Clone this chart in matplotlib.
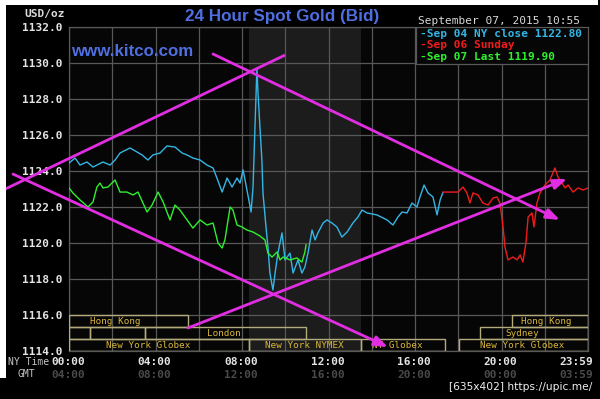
import matplotlib
matplotlib.use("Agg")
import matplotlib.pyplot as plt
import matplotlib.transforms as mtransforms
from matplotlib.patches import Rectangle

# ---------------- data ----------------
sep04_h = [0.00, 0.28, 0.51, 0.83, 1.11, 1.57, 1.90, 2.13, 2.36, 2.82, 3.14, 3.38, 3.65, 3.88,
           4.21, 4.53, 4.90, 5.23, 5.46, 5.73, 6.06, 6.38, 6.66, 6.84, 7.08, 7.31, 7.54, 7.77,
           7.91, 8.05, 8.23, 8.42, 8.51, 8.60, 8.69, 8.74, 8.83, 8.92, 8.97, 9.11, 9.20, 9.29,
           9.43, 9.53, 9.66, 9.85, 9.99, 10.22, 10.36, 10.59, 10.77, 10.91, 11.05, 11.24, 11.38,
           11.51, 11.75, 11.93, 12.16, 12.39, 12.62, 12.86, 13.13, 13.36, 13.55, 13.78, 14.24,
           14.71, 14.98, 15.21, 15.40, 15.63, 15.86, 16.09, 16.23, 16.42, 16.60, 16.83, 17.02,
           17.16, 17.29]
sep04_p = [1124.44, 1124.72, 1124.33, 1124.50, 1124.22, 1124.50, 1124.33, 1124.61, 1125.00,
           1125.28, 1125.06, 1124.89, 1124.61, 1124.89, 1125.00, 1125.39, 1125.33, 1125.00,
           1124.89, 1124.72, 1124.61, 1124.33, 1124.17, 1123.61, 1122.83, 1123.61, 1123.11,
           1123.61, 1123.33, 1124.06, 1122.94, 1121.72, 1123.11, 1126.44, 1129.72, 1128.33,
           1126.44, 1124.61, 1122.78, 1120.89, 1119.78, 1118.33, 1117.39, 1118.33, 1119.44,
           1120.56, 1119.06, 1119.44, 1118.33, 1119.06, 1118.33, 1118.67, 1119.44, 1120.72,
           1120.17, 1120.56, 1121.11, 1121.28, 1121.11, 1120.89, 1120.33, 1120.61, 1121.11,
           1121.44, 1121.83, 1121.67, 1121.56, 1121.28, 1121.00, 1121.44, 1121.72, 1121.67,
           1122.22, 1122.00, 1122.56, 1123.22, 1122.78, 1122.56, 1121.56, 1122.39, 1122.80]

sep06_h = [17.29, 17.99, 18.22, 18.40, 18.54, 18.68, 18.91, 19.14, 19.38, 19.61, 19.79, 19.93,
           20.07, 20.16, 20.30, 20.53, 20.72, 20.86, 20.99, 21.13, 21.23, 21.41, 21.50, 21.64,
           21.78, 22.01, 22.24, 22.47, 22.61, 22.80, 22.94, 23.08, 23.31, 23.54, 23.77, 24.00]
sep06_p = [1122.83, 1122.83, 1123.11, 1122.78, 1122.22, 1122.78, 1122.67, 1122.22, 1122.11,
           1122.50, 1122.56, 1122.22, 1120.89, 1119.78, 1119.06, 1119.22, 1119.06, 1119.33,
           1118.94, 1120.00, 1121.44, 1121.67, 1120.89, 1122.22, 1122.78, 1123.22, 1123.50,
           1124.17, 1123.67, 1123.33, 1123.06, 1123.22, 1122.83, 1123.06, 1122.94, 1123.06]

sep07_h = [0.00, 0.18, 0.51, 0.88, 1.11, 1.29, 1.43, 1.57, 1.80, 2.13, 2.36, 2.68, 2.96, 3.19,
           3.42, 3.61, 3.84, 4.12, 4.35, 4.67, 4.90, 5.13, 5.46, 5.73, 6.06, 6.38, 6.66, 6.89,
           7.08, 7.21, 7.45, 7.58, 7.77, 8.00, 8.23, 8.51, 8.83, 9.06, 9.20, 9.39, 9.62, 9.76,
           9.90, 10.22, 10.54, 10.77, 10.91, 10.96]
sep07_p = [1123.06, 1122.78, 1122.39, 1122.00, 1122.28, 1123.11, 1123.33, 1123.06, 1123.11,
           1123.50, 1122.83, 1122.83, 1122.67, 1122.83, 1122.22, 1121.72, 1122.11, 1122.83,
           1122.28, 1121.28, 1122.11, 1121.83, 1121.28, 1120.83, 1121.28, 1121.00, 1121.11,
           1120.00, 1119.72, 1120.17, 1122.00, 1121.83, 1121.00, 1120.89, 1120.72, 1120.61,
           1120.39, 1120.17, 1119.44, 1119.22, 1119.50, 1119.06, 1119.22, 1119.06, 1119.17,
           1118.94, 1119.50, 1119.90]

legend_labels = ["-Sep 04 NY close 1122.80", "-Sep 06 Sunday", "-Sep 07 Last 1119.90"]
series_colors = ["#33b6e6", "#f01c1c", "#2ef02e"]

ny_ticks = [0, 4, 8, 12, 16, 20, 23.5]
ny_labels = ["00:00", "04:00", "08:00", "12:00", "16:00", "20:00", "23:59"]
gmt_labels = ["04:00", "08:00", "12:00", "16:00", "20:00", "00:00", "03:59"]
y_ticks = list(range(1114, 1133, 2))

# sessions: (row, start_hour, end_hour, label, label_hour)
sessions = [
    (0, 0.0, 5.5, "Hong Kong", 2.13),
    (0, 20.5, 24.0, "Hong Kong", 22.06),
    (1, 0.0, 0.97, "", 0),
    (1, 0.97, 3.5, "", 0),
    (1, 3.5, 10.96, "London", 7.17),
    (1, 19.0, 24.0, "Sydney", 20.95),
    (2, 0.0, 8.33, "New York Globex", 3.65),
    (2, 8.33, 13.5, "New York NYMEX", 10.87),
    (2, 13.5, 17.4, "NY Globex", 15.17),
    (2, 18.03, 24.0, "New York Globex", 20.95),
]
ny_session = (8.33, 13.5)

# hand-drawn trend lines (hour, price)
trend_lines = [
    ((-3.05, 1122.94), (9.99, 1130.44), False),
    ((-2.59, 1123.83), (14.75, 1114.22), True),
    ((6.66, 1130.50), (22.70, 1121.28), True),
    ((5.50, 1115.28), (23.03, 1123.56), True),
]

# ---------------- figure ----------------
W, H = 600, 399
fig = plt.figure(figsize=(6.0, 3.99), dpi=100, facecolor="#000000")

def fx(x):
    return x / W

def fy(y):
    return 1 - y / H

# white border strips
fig.patches.append(Rectangle((0, fy(5)), fx(598), 1 - fy(5), transform=fig.transFigure,
                             facecolor="white", edgecolor="none", zorder=0))
fig.patches.append(Rectangle((0, fy(378)), fx(6), fy(0) - fy(378), transform=fig.transFigure,
                             facecolor="white", edgecolor="none", zorder=0))

ax = fig.add_axes([fx(69), fy(351), fx(588) - fx(69), fy(27) - fy(351)])
ax.set_facecolor("#060606")
ax.set_xlim(0, 24)
ax.set_ylim(1114, 1132)
ax.axvspan(*ny_session, color="#1c1c1c", zorder=0.5, lw=0)

ax.set_xticks(range(0, 25, 2))
ax.set_yticks(y_ticks)
ax.set_yticklabels([f"{v:.1f}" for v in y_ticks])
ax.tick_params(axis="x", length=0, labelbottom=False)
ax.tick_params(axis="y", length=0, pad=5, labelsize=8, labelcolor="#e4e4e4")
for lab in ax.get_yticklabels():
    lab.set_fontfamily("DejaVu Sans Mono")
    lab.set_fontweight("bold")
ax.grid(True, color="#585858", lw=0.9, zorder=1)
ax.set_axisbelow(True)
for s in ax.spines.values():
    s.set_color("#585858")
    s.set_linewidth(0.9)

# session boxes
bt = mtransforms.blended_transform_factory(ax.transData, ax.transAxes)
row_h = 12 / 324
for row, h0, h1, lab, lh in sessions:
    ybot = (351 - 315) / 324 - (row + 1) * row_h
    ax.add_patch(Rectangle((h0, ybot), h1 - h0, row_h, transform=bt, fill=False,
                           edgecolor="#b4ab7c", lw=1.0, zorder=3))
    if lab:
        ax.text(lh, ybot + row_h / 2, lab, transform=bt, ha="center", va="center",
                fontsize=6.7, family="DejaVu Sans Mono", color="#dcb83a", zorder=4)

# data lines
ax.plot(sep04_h, sep04_p, color=series_colors[0], lw=1.0, zorder=5)
ax.plot(sep06_h, sep06_p, color=series_colors[1], lw=1.0, zorder=5)
ax.plot(sep07_h, sep07_p, color=series_colors[2], lw=1.0, zorder=6)

# legend box
lx0 = 16.05
ax.add_patch(Rectangle((lx0, (351 - 64) / 324), 24 - lx0, 1 - (351 - 64) / 324, transform=bt,
                       facecolor="#060606", edgecolor="#585858", lw=0.9, zorder=7))
for i, (lab, c) in enumerate(zip(legend_labels, series_colors)):
    fig.text(fx(420), fy(34 + i * 11.5), lab, color=c, fontsize=8, family="DejaVu Sans Mono",
             fontweight="bold", ha="left", va="center", zorder=8)

# trend lines
magenta = "#e22ee2"
for (x0, y0), (x1, y1), arrow in trend_lines:
    if arrow:
        ax.annotate("", xy=(x1, y1), xytext=(x0, y0), annotation_clip=False,
                    arrowprops=dict(arrowstyle="-|>,head_length=0.8,head_width=0.3",
                                    color=magenta, lw=2.0, shrinkA=0, shrinkB=0),
                    zorder=9)
    else:
        ax.plot([x0, x1], [y0, y1], color=magenta, lw=2.0, clip_on=False, zorder=9,
                solid_capstyle="butt")

# x labels
for t, l, g in zip(ny_ticks, ny_labels, gmt_labels):
    xp = 69 + t * 21.625
    fig.text(fx(xp - 1), fy(362), l, color="#e4e4e4", fontsize=8, family="DejaVu Sans Mono",
             fontweight="bold", ha="center", va="center")
    fig.text(fx(xp - 1), fy(375), g, color="#4a4a4a", fontsize=8, family="DejaVu Sans Mono",
             fontweight="bold", ha="center", va="center")
fig.text(fx(29), fy(362), "NY Time", color="#c8c8c8", fontsize=7, family="DejaVu Sans Mono",
         ha="center", va="center")
fig.text(fx(26), fy(374), "GMT", color="#c8c8c8", fontsize=7, family="DejaVu Sans Mono",
         ha="center", va="center")

# texts
fig.text(fx(45), fy(14), "USD/oz", color="#dcdcdc", fontsize=8, family="DejaVu Sans Mono",
         fontweight="bold", ha="center", va="center")
fig.text(fx(282), fy(16), "24 Hour Spot Gold (Bid)", color="#4f6ee0", fontsize=12.3,
         family="Liberation Sans", fontweight="bold", ha="center", va="center")
fig.text(fx(71), fy(52), "www.kitco.com", color="#4f6ee0", fontsize=12.2,
         family="Liberation Sans", fontweight="bold", ha="left", va="center", zorder=8)
fig.text(fx(499), fy(21), "September 07, 2015 10:55", color="#d8d8d8", fontsize=8,
         family="DejaVu Sans Mono", ha="center", va="center")
fig.text(fx(521), fy(387), "[635x402] https://upic.me/", color="#f0f0f0", fontsize=7.7,
         family="DejaVu Sans", ha="center", va="center")

fig.savefig("out.png", dpi=100, facecolor=fig.get_facecolor())
